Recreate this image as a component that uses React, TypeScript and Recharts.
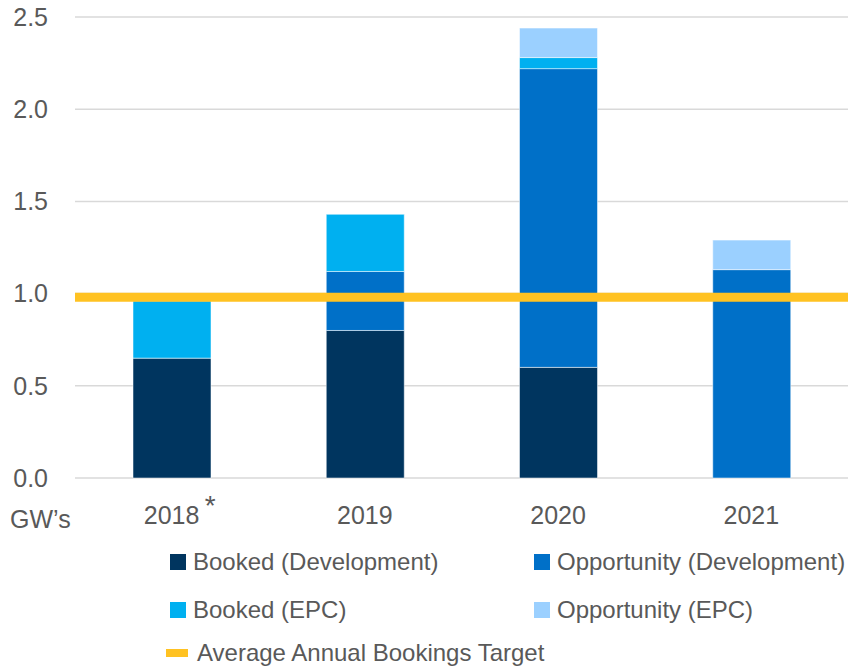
import { BarChart, Bar, XAxis, YAxis, CartesianGrid, ReferenceLine } from "recharts";

const years = ["2018", "2019", "2020", "2021"];
const footnotedYear = "2018";
const bookedDev = [0.65, 0.8, 0.6, 0];
const oppDev = [0, 0.32, 1.62, 1.13];
const bookedEpc = [0.31, 0.31, 0.06, 0];
const oppEpc = [0, 0, 0.16, 0.16];
const bookingsTarget = 0.98;
const yTicks = [0, 0.5, 1.0, 1.5, 2.0, 2.5];

const series = [
  { key: "bookedDev", name: "Booked (Development)", color: "#00355f", values: bookedDev },
  { key: "oppDev", name: "Opportunity (Development)", color: "#0070c8", values: oppDev },
  { key: "bookedEpc", name: "Booked (EPC)", color: "#00b0f0", values: bookedEpc },
  { key: "oppEpc", name: "Opportunity (EPC)", color: "#9bd0ff", values: oppEpc },
];
const targetName = "Average Annual Bookings Target";
const targetColor = "#ffc222";

const data = years.map((year, i) => {
  const row: Record<string, string | number> = { year };
  series.forEach((s) => (row[s.key] = s.values[i]));
  return row;
});

const textColor = "#595959";
const font = "'Liberation Sans', Arial, sans-serif";

function YearTick({ x, y, payload }: any) {
  return (
    <g>
      <text x={x} y={y + 38} textAnchor="middle" fill={textColor} fontSize={25} fontFamily={font}>
        {payload.value}
      </text>
      {payload.value === footnotedYear && (
        <text x={x + 33} y={y + 29} fill={textColor} fontSize={28} fontFamily={font}>
          *
        </text>
      )}
    </g>
  );
}

// legend grid: two columns, target line on its own row
const legendSlots = [
  { left: 170, top: 550 },
  { left: 534, top: 550 },
  { left: 170, top: 598 },
  { left: 534, top: 598 },
];

export default function App() {
  return (
    <div style={{ position: "absolute", left: 0, top: 0, width: 848, height: 667, background: "#fff", fontFamily: font }}>
      <BarChart
        width={848}
        height={540}
        data={data}
        margin={{ top: 17, right: 0, left: 0, bottom: 22 }}
        barSize={78}
      >
        <CartesianGrid vertical={false} stroke="#d9d9d9" strokeWidth={1.5} />
        <XAxis
          dataKey="year"
          axisLine={false}
          tickLine={false}
          height={40}
          tick={<YearTick />}
          interval={0}
        />
        <YAxis
          width={75}
          domain={[0, 2.5]}
          ticks={yTicks}
          axisLine={false}
          tickLine={false}
          tickMargin={21}
          tick={{ fill: textColor, fontSize: 25, fontFamily: font }}
          tickFormatter={(v) => v.toFixed(1)}
        />
        {series.map((s) => (
          <Bar
            key={s.key}
            dataKey={s.key}
            name={s.name}
            stackId="gw"
            fill={s.color}
            stroke="#ffffff"
            strokeOpacity={0.5}
            strokeWidth={1}
            isAnimationActive={false}
          />
        ))}
        <ReferenceLine y={bookingsTarget} stroke={targetColor} strokeWidth={9} />
      </BarChart>

      <div style={{ position: "absolute", left: 10, top: 507, fontSize: 25, lineHeight: "25px", color: textColor }}>
        GW’s
      </div>

      {series.map((s, i) => (
        <div
          key={s.key}
          style={{
            position: "absolute",
            left: legendSlots[i].left,
            top: legendSlots[i].top,
            height: 24,
            display: "flex",
            alignItems: "center",
            gap: 7,
            fontSize: 24,
            lineHeight: "24px",
            color: textColor,
            whiteSpace: "nowrap",
          }}
        >
          <span style={{ width: 16, height: 16, background: s.color, display: "inline-block" }} />
          <span>{s.name}</span>
        </div>
      ))}
      <div
        style={{
          position: "absolute",
          left: 166,
          top: 641,
          height: 24,
          display: "flex",
          alignItems: "center",
          gap: 9,
          fontSize: 24,
          lineHeight: "24px",
          color: textColor,
          whiteSpace: "nowrap",
        }}
      >
        <span style={{ width: 22, height: 8, background: targetColor, display: "inline-block" }} />
        <span>{targetName}</span>
      </div>
    </div>
  );
}
